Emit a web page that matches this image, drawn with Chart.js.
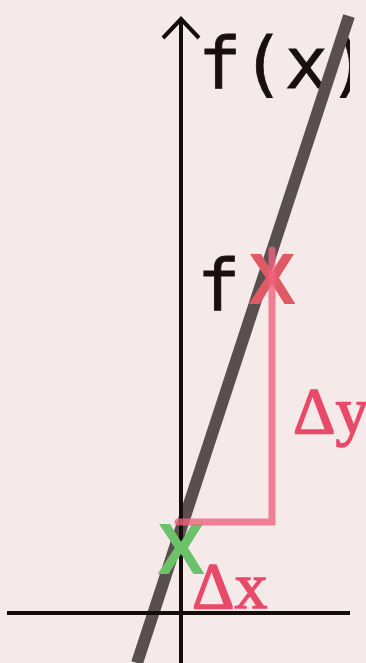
<!DOCTYPE html>
<html>
<head>
<meta charset="utf-8">
<script src="https://cdn.jsdelivr.net/npm/chart.js@4"></script>
<style>
    html, body { margin: 0; padding: 0; background: #f5e9ea; }
    body { width: 366px; height: 663px; overflow: hidden; position: relative; }
    #wrap { position: absolute; left: 0; top: 0; width: 366px; height: 663px; }
</style>
</head>
<body>
<div id="wrap"><canvas id="graph"></canvas></div>
<script>
// function line f(x)
const lineX = [-4.4, 16.8];
const lineY = [-5.0, 59.7];

// delta triangle: start point, corner, end point
const deltaX = [-0.3, 9.1, 9.1];
const deltaY = [9.1, 9.1, 36.3];

// marked points
const markX = [0, 9.1];
const markY = [6.5, 33.5];

// axes
const xAxisX = [-17.4, 16.9];
const xAxisY = [0, 0];
const yAxisX = [0, 0];
const yAxisY = [-5.0, 59.4];
const arrowX = [-1.8, 0, 1.8];
const arrowY = [57.5, 59.4, 57.5];

function toPoints(xs, ys) {
    return xs.map((x, i) => ({ x: x, y: ys[i] }));
}

function makeCross(color) {
    const c = document.createElement('canvas');
    c.width = 62;
    c.height = 62;
    const g = c.getContext('2d');
    g.fillStyle = color;
    g.font = 'bold 72px "Liberation Sans"';
    g.textAlign = 'center';
    g.textBaseline = 'alphabetic';
    g.fillText('X', 31, 57);
    return c;
}

const notes = [
    { text: 'f(x)', x: 1.7, y: 52.5, font: '72px "DejaVu Sans Mono"', color: '#1a0f0f', stroke: 0.8, clipAt: 16.9 },
    { text: 'f', x: 1.6, y: 30.3, font: '72px "DejaVu Sans Mono"', color: '#1a0f0f', stroke: 0.8 },
    { text: 'Δy', x: 11.2, y: 18.0, font: '66px "Liberation Serif"', color: '#e84a68', stroke: 1.4 },
    { text: 'Δx', x: 1.1, y: 0.5, font: '66px "Liberation Serif"', color: '#e84a68', stroke: 1.4 }
];

const notesPlugin = {
    id: 'notes',
    beforeDatasetsDraw(chart) {
        const ctx = chart.ctx;
        const xs = chart.scales.x;
        const ys = chart.scales.y;
        notes.forEach(n => {
            ctx.save();
            if (n.clipAt !== undefined) {
                ctx.beginPath();
                ctx.rect(0, 0, xs.getPixelForValue(n.clipAt), chart.height);
                ctx.clip();
            }
            ctx.textAlign = 'left';
            ctx.textBaseline = 'alphabetic';
            ctx.font = n.font;
            ctx.fillStyle = n.color;
            ctx.strokeStyle = n.color;
            ctx.lineWidth = n.stroke;
            const px = xs.getPixelForValue(n.x);
            const py = ys.getPixelForValue(n.y);
            ctx.fillText(n.text, px, py);
            ctx.strokeText(n.text, px, py);
            ctx.restore();
        });
    }
};

function lineSet(data, color, width, cap, order) {
    return {
        data: data,
        showLine: true,
        borderColor: color,
        borderWidth: width,
        borderCapStyle: cap,
        borderJoinStyle: 'miter',
        pointRadius: 0,
        clip: false,
        order: order
    };
}

const greenX = makeCross('#6cc26a');
const redX = makeCross('#e05a66');

new Chart(document.getElementById('graph'), {
    type: 'scatter',
    data: {
        datasets: [
            lineSet(toPoints(deltaX, deltaY), 'rgba(238,100,128,0.8)', 7, 'round', 0),
            {
                data: [toPoints(markX, markY)[0]],
                pointStyle: greenX,
                pointRadius: 31,
                clip: false,
                order: 1
            },
            {
                data: [toPoints(markX, markY)[1]],
                pointStyle: redX,
                pointRadius: 31,
                clip: false,
                order: 2
            },
            lineSet(toPoints(yAxisX, yAxisY), '#150c0c', 4, 'butt', 3),
            lineSet(toPoints(arrowX, arrowY), '#150c0c', 4, 'butt', 3),
            lineSet(toPoints(xAxisX, xAxisY), '#150c0c', 4, 'butt', 3),
            lineSet(toPoints(lineX, lineY), '#5a4f4f', 12, 'butt', 4)
        ]
    },
    options: {
        responsive: true,
        maintainAspectRatio: false,
        animation: false,
        layout: { padding: 0, autoPadding: false },
        scales: {
            x: { type: 'linear', min: -18.1, max: 18.5, display: false },
            y: { type: 'linear', min: -5.0, max: 61.3, display: false }
        },
        plugins: {
            legend: { display: false },
            tooltip: { enabled: false }
        }
    },
    plugins: [notesPlugin]
});
</script>
</body>
</html>
